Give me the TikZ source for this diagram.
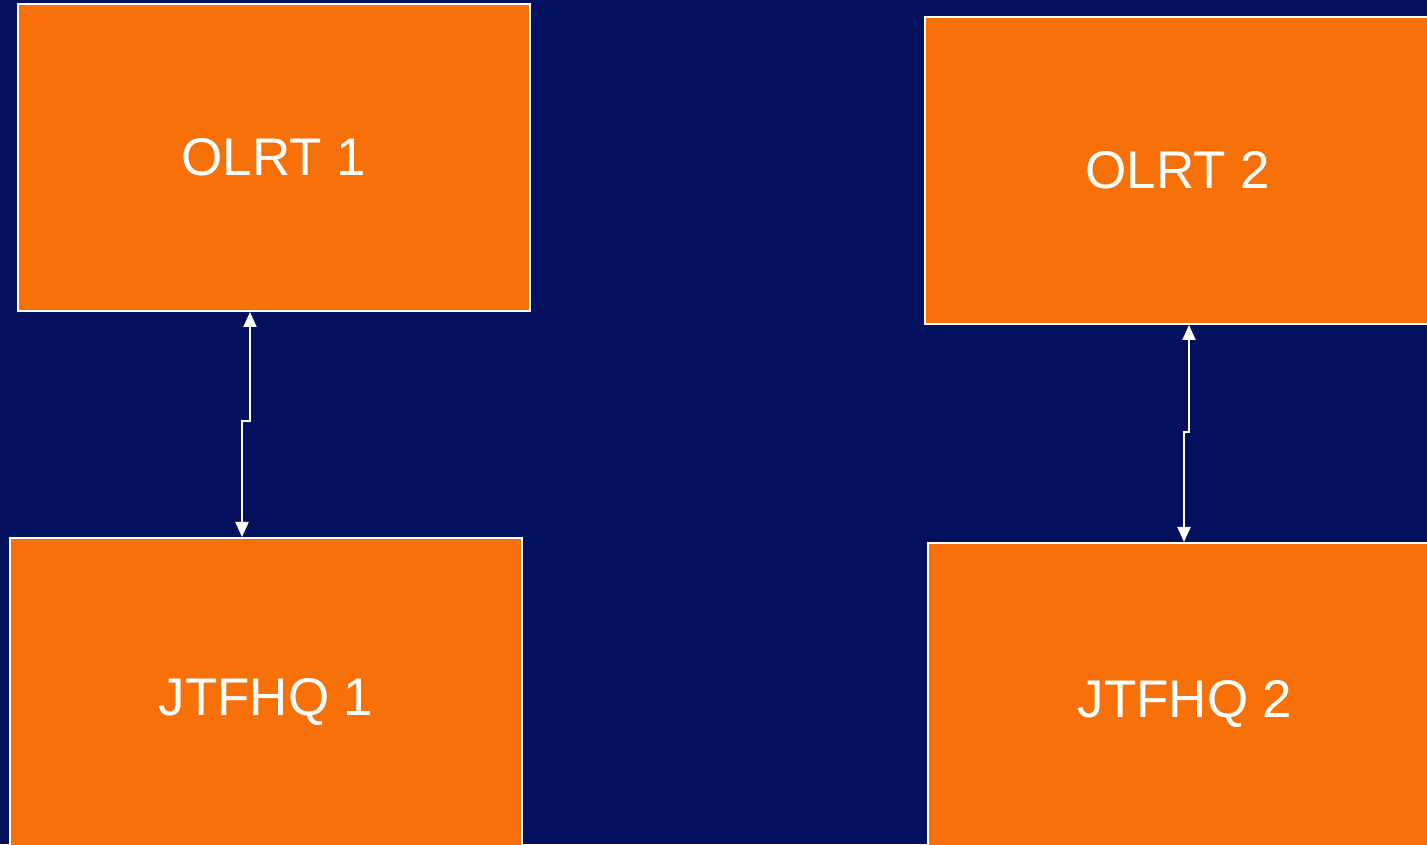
\documentclass[tikz,border=0pt]{standalone}
\usepackage{fontspec}
\setmainfont{Liberation Sans}
\usetikzlibrary{arrows.meta}
\definecolor{navybg}{RGB}{2,16,94}
\definecolor{boxorange}{RGB}{247,112,8}
\begin{document}
\begin{tikzpicture}[x=1pt,y=1pt,
  box/.style={draw=white,line width=2pt,fill=boxorange,inner sep=0pt,
    text=white,font=\fontsize{53}{62}\selectfont},
  link/.style={draw=white,line width=2pt,{Triangle[length=15pt,width=13pt]}-{Triangle[length=15pt,width=13pt]}}]
\fill[navybg] (0,0) rectangle (1427,844);
\useasboundingbox (0,0) rectangle (1427,844);
\node[box,minimum width=512pt,minimum height=307pt] (o1) at (274,686.5) {OLRT 1};
\node[box,minimum width=512pt,minimum height=328pt] (j1) at (266,142) {JTFHQ 1};
\node[box,minimum width=506pt,minimum height=307pt] (o2) at (1178,673.5) {OLRT 2};
\node[box,minimum width=514pt,minimum height=322pt] (j2) at (1185,140) {JTFHQ 2};
\coordinate (k1) at (250,423);
\coordinate (k2) at (242,423);
\coordinate (k3) at (1189,412);
\coordinate (k4) at (1184,412);
\draw[link] (o1.south -| k1) -- (k1) -- (k2) -- (j1.north -| k2);
\draw[link] (o2.south -| k3) -- (k3) -- (k4) -- (j2.north -| k4);
\end{tikzpicture}
\end{document}
